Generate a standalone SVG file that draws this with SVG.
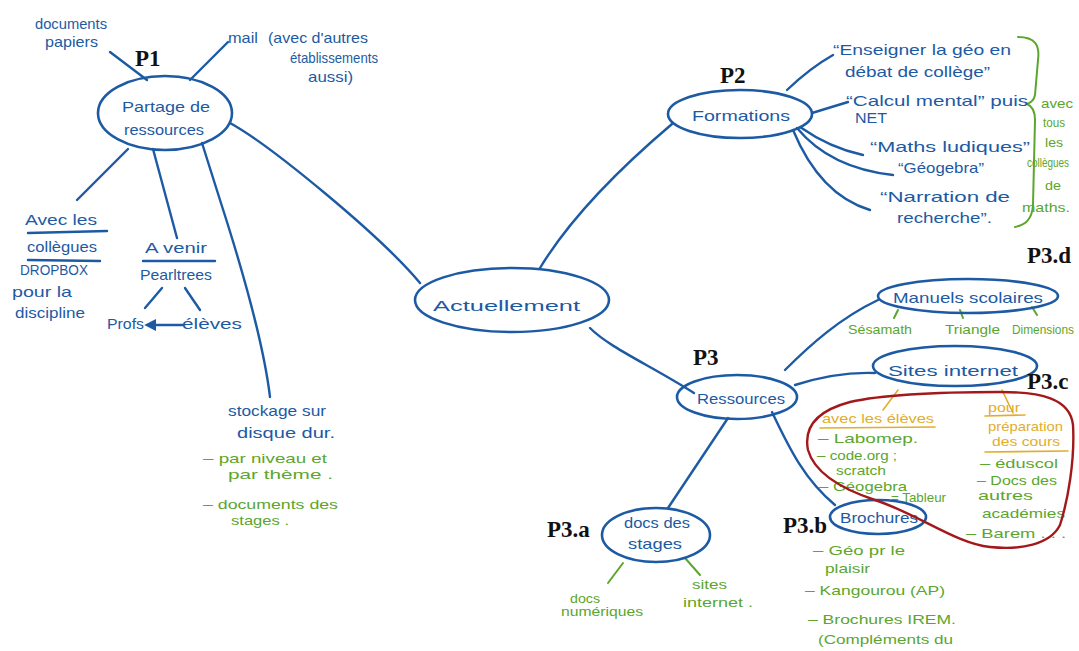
<svg xmlns="http://www.w3.org/2000/svg" width="1079" height="651" viewBox="0 0 1079 651">
<style>
text{font-family:"Liberation Sans","DejaVu Sans",sans-serif}
.b{fill:#1d5aa4;font-size:15px}
.g{fill:#5ba62c;font-size:13px}
.o{fill:#e2ad2a;font-size:13px}
.lbl{fill:#111;font-family:"Liberation Serif",serif;font-weight:bold;font-size:23px}
.nd{fill:none;stroke:#1d5aa4;stroke-width:2.6}
.ln{fill:none;stroke:#1d5aa4;stroke-width:2.4;stroke-linecap:round}
.gl{fill:none;stroke:#5ba62c;stroke-width:2;stroke-linecap:round}
.ol{fill:none;stroke:#e2ad2a;stroke-width:1.6;stroke-linecap:round}
.rl{fill:none;stroke:#a3191b;stroke-width:2.4}
</style>
<defs>
<marker id="ah" viewBox="0 0 10 10" refX="1" refY="5" markerWidth="5" markerHeight="5" orient="auto-start-reverse"><path d="M0,0 L10,5 L0,10 z" fill="#1d5aa4"/></marker>
</defs>
<rect width="1079" height="651" fill="#fff"/>

<g id="connectors">
<path class="ln" d="M230,123 C270,145 380,235 420,283"/>
<path class="ln" d="M540,268 C560,235 600,185 672,124"/>
<path class="ln" d="M590,328 C610,348 650,365 694,393"/>
<path class="ln" d="M110,52 L147,80"/>
<path class="ln" d="M190,80 L228,42"/>
<path class="ln" d="M128,149 L77,200"/>
<path class="ln" d="M153,149 L177,238"/>
<path class="ln" d="M202,143 L220,200 Q262,330 270,397"/>
<path class="ln" d="M162,288 L145,308"/>
<path class="ln" d="M185,288 L200,310"/>
<path class="ln" d="M155,325 L183,325" marker-start="url(#ah)"/>
<path class="ln" d="M787,90 Q810,68 833,55"/>
<path class="ln" d="M812,113 L848,102"/>
<path class="ln" d="M800,127 Q830,148 863,155"/>
<path class="ln" d="M797,128 Q830,168 893,175"/>
<path class="ln" d="M793,130 Q820,195 870,210"/>
<path class="ln" d="M785,370 C810,345 840,318 878,300"/>
<path class="ln" d="M795,385 C820,377 850,372 875,373"/>
<path class="ln" d="M772,412 C790,450 805,480 835,505"/>
<path class="ln" d="M728,418 L668,508"/>
<path class="gl" d="M898,310 L894,318"/>
<path class="gl" d="M960,310 L963,318"/>
<path class="gl" d="M1032,307 L1037,315"/>
<path class="gl" d="M623,563 L608,583"/>
<path class="gl" d="M685,558 L700,575"/>
<path class="ol" d="M898,390 L883,410"/>
<path class="ol" d="M1002,390 L1013,413"/>
<path class="gl" d="M1018,37 C1035,37 1040,45 1038,60 L1035,95 C1034,100 1030,103 1027,104 C1032,106 1035,110 1035,120 L1033,205 C1032,220 1025,225 1015,227"/>
</g>

<g id="n-actuellement">
<ellipse class="nd" cx="512" cy="300" rx="97" ry="32"/>
<text class="b" x="433" y="311" font-size="26" textLength="147" lengthAdjust="spacingAndGlyphs">Actuellement</text>
</g>

<g id="n-partage">
<ellipse class="nd" cx="165" cy="113" rx="67" ry="37"/>
<text class="b" x="122" y="112" font-size="17" textLength="88" lengthAdjust="spacingAndGlyphs">Partage de</text>
<text class="b" x="124" y="135" font-size="17" textLength="80" lengthAdjust="spacingAndGlyphs">ressources</text>
<text class="lbl" x="135" y="66">P1</text>
</g>

<g id="leaf-documents">
<text class="b" x="35" y="29" font-size="14" textLength="72" lengthAdjust="spacingAndGlyphs">documents</text>
<text class="b" x="45" y="47" font-size="14" textLength="53" lengthAdjust="spacingAndGlyphs">papiers</text>
</g>
<g id="leaf-mail">
<text class="b" x="228" y="43" font-size="15" textLength="30" lengthAdjust="spacingAndGlyphs">mail</text>
<text class="b" x="268" y="43" font-size="14" textLength="100" lengthAdjust="spacingAndGlyphs">(avec d'autres</text>
<text class="b" x="290" y="63" font-size="14" textLength="88" lengthAdjust="spacingAndGlyphs">établissements</text>
<text class="b" x="308" y="82" font-size="14" textLength="45" lengthAdjust="spacingAndGlyphs">aussi)</text>
</g>
<g id="leaf-avec">
<text class="b" x="25" y="225" font-size="16" textLength="72" lengthAdjust="spacingAndGlyphs">Avec les</text>
<path class="ln" d="M28,233 L107,231" stroke-width="2"/>
<text class="b" x="27" y="252" font-size="16" textLength="70" lengthAdjust="spacingAndGlyphs">collègues</text>
<path class="ln" d="M28,260 L100,261" stroke-width="2"/>
<text class="b" x="20" y="275" font-size="14" textLength="68" lengthAdjust="spacingAndGlyphs">DROPBOX</text>
<text class="b" x="12" y="297" font-size="15" textLength="60" lengthAdjust="spacingAndGlyphs">pour la</text>
<text class="b" x="15" y="318" font-size="15" textLength="70" lengthAdjust="spacingAndGlyphs">discipline</text>
</g>
<g id="leaf-avenir">
<text class="b" x="145" y="253" font-size="16" textLength="62" lengthAdjust="spacingAndGlyphs">A venir</text>
<path class="ln" d="M143,261 L215,261" stroke-width="2"/>
<text class="b" x="140" y="280" font-size="15" textLength="72" lengthAdjust="spacingAndGlyphs">Pearltrees</text>
<text class="b" x="107" y="329" font-size="16" textLength="37" lengthAdjust="spacingAndGlyphs">Profs</text>
<text class="b" x="182" y="329" font-size="16" textLength="60" lengthAdjust="spacingAndGlyphs">élèves</text>
</g>
<g id="leaf-stockage">
<text class="b" x="228" y="416" font-size="16" textLength="98" lengthAdjust="spacingAndGlyphs">stockage sur</text>
<text class="b" x="237" y="438" font-size="16" textLength="98" lengthAdjust="spacingAndGlyphs">disque dur.</text>
<text class="g" x="203" y="463" font-size="14" textLength="124" lengthAdjust="spacingAndGlyphs">– par niveau et</text>
<text class="g" x="228" y="479" font-size="14" textLength="105" lengthAdjust="spacingAndGlyphs">par thème .</text>
<text class="g" x="203" y="509" font-size="14" textLength="135" lengthAdjust="spacingAndGlyphs">– documents des</text>
<text class="g" x="231" y="525" font-size="14" textLength="58" lengthAdjust="spacingAndGlyphs">stages .</text>
</g>

<g id="n-formations">
<ellipse class="nd" cx="740" cy="114" rx="72" ry="24"/>
<text class="b" x="692" y="121" font-size="20" textLength="98" lengthAdjust="spacingAndGlyphs">Formations</text>
<text class="lbl" x="720" y="83">P2</text>
</g>
<g id="leaf-formations">
<text class="b" x="833" y="55" font-size="15" textLength="178" lengthAdjust="spacingAndGlyphs">“Enseigner la géo en</text>
<text class="b" x="845" y="77" font-size="15" textLength="145" lengthAdjust="spacingAndGlyphs">débat de collège”</text>
<text class="b" x="846" y="106" font-size="15" textLength="182" lengthAdjust="spacingAndGlyphs">“Calcul mental” puis</text>
<text class="b" x="855" y="123" font-size="14" textLength="32" lengthAdjust="spacingAndGlyphs">NET</text>
<text class="b" x="870" y="152" font-size="15" textLength="160" lengthAdjust="spacingAndGlyphs">“Maths ludiques”</text>
<text class="b" x="898" y="173" font-size="15" textLength="86" lengthAdjust="spacingAndGlyphs">“Géogebra”</text>
<text class="b" x="880" y="202" font-size="15" textLength="130" lengthAdjust="spacingAndGlyphs">“Narration de</text>
<text class="b" x="897" y="223" font-size="15" textLength="95" lengthAdjust="spacingAndGlyphs">recherche”.</text>
</g>
<g id="leaf-brace">
<text class="g" x="1041" y="108" font-size="12" textLength="32" lengthAdjust="spacingAndGlyphs">avec</text>
<text class="g" x="1043" y="127" font-size="12" textLength="22" lengthAdjust="spacingAndGlyphs">tous</text>
<text class="g" x="1045" y="147" font-size="12" textLength="18" lengthAdjust="spacingAndGlyphs">les</text>
<text class="g" x="1027" y="167" font-size="10" textLength="42" lengthAdjust="spacingAndGlyphs">collègues</text>
<text class="g" x="1045" y="190" font-size="12" textLength="16" lengthAdjust="spacingAndGlyphs">de</text>
<text class="g" x="1022" y="212" font-size="12" textLength="48" lengthAdjust="spacingAndGlyphs">maths.</text>
</g>

<g id="n-ressources">
<ellipse class="nd" cx="737" cy="397" rx="60" ry="22"/>
<text class="b" x="697" y="404" font-size="17" textLength="88" lengthAdjust="spacingAndGlyphs">Ressources</text>
<text class="lbl" x="693" y="365">P3</text>
</g>

<g id="n-manuels">
<ellipse class="nd" cx="968" cy="296" rx="90" ry="17"/>
<text class="b" x="893" y="303" font-size="16" textLength="150" lengthAdjust="spacingAndGlyphs">Manuels scolaires</text>
<text class="lbl" x="1027" y="263">P3.d</text>
<text class="g" x="848" y="334" textLength="64" lengthAdjust="spacingAndGlyphs">Sésamath</text>
<text class="g" x="945" y="334" textLength="55" lengthAdjust="spacingAndGlyphs">Triangle</text>
<text class="g" x="1012" y="334" textLength="62" lengthAdjust="spacingAndGlyphs">Dimensions</text>
</g>

<g id="n-sites">
<ellipse class="nd" cx="955" cy="366" rx="82" ry="20"/>
<text class="b" x="888" y="376" font-size="17" textLength="130" lengthAdjust="spacingAndGlyphs">Sites internet</text>
<text class="lbl" x="1027" y="389">P3.c</text>
</g>
<g id="leaf-sites">
<text class="o" x="822" y="423" textLength="112" lengthAdjust="spacingAndGlyphs">avec les élèves</text>
<path class="ol" d="M820,428 L935,427"/>
<text class="o" x="988" y="412" textLength="32" lengthAdjust="spacingAndGlyphs">pour</text>
<path class="ol" d="M985,416 L1025,415"/>
<text class="o" x="988" y="431" textLength="75" lengthAdjust="spacingAndGlyphs">préparation</text>
<text class="o" x="992" y="446" textLength="68" lengthAdjust="spacingAndGlyphs">des cours</text>
<path class="ol" d="M985,452 L1068,451"/>
<text class="g" x="818" y="443" font-size="14" textLength="100" lengthAdjust="spacingAndGlyphs">– Labomep.</text>
<text class="g" x="817" y="460" font-size="13" textLength="80" lengthAdjust="spacingAndGlyphs">– code.org ;</text>
<text class="g" x="836" y="475" font-size="13" textLength="50" lengthAdjust="spacingAndGlyphs">scratch</text>
<text class="g" x="819" y="491" font-size="14" textLength="88" lengthAdjust="spacingAndGlyphs">– Géogebra</text>
<text class="g" x="891" y="502" font-size="13" textLength="55" lengthAdjust="spacingAndGlyphs">= Tableur</text>
<text class="g" x="980" y="468" font-size="14" textLength="78" lengthAdjust="spacingAndGlyphs">– éduscol</text>
<text class="g" x="977" y="485" font-size="14" textLength="80" lengthAdjust="spacingAndGlyphs">– Docs des</text>
<text class="g" x="978" y="500" font-size="14" textLength="55" lengthAdjust="spacingAndGlyphs">autres</text>
<text class="g" x="982" y="518" font-size="14" textLength="83" lengthAdjust="spacingAndGlyphs">académies</text>
<text class="g" x="966" y="538" font-size="14" textLength="100" lengthAdjust="spacingAndGlyphs">– Barem . . .</text>
</g>

<g id="n-brochures">
<ellipse class="nd" cx="878" cy="517" rx="48" ry="17"/>
<text class="b" x="840" y="523" font-size="16" textLength="78" lengthAdjust="spacingAndGlyphs">Brochures</text>
<text class="lbl" x="783" y="533">P3.b</text>
</g>
<g id="leaf-brochures">
<text class="g" x="813" y="555" font-size="14" textLength="92" lengthAdjust="spacingAndGlyphs">– Géo pr le</text>
<text class="g" x="825" y="573" font-size="14" textLength="45" lengthAdjust="spacingAndGlyphs">plaisir</text>
<text class="g" x="805" y="595" font-size="14" textLength="140" lengthAdjust="spacingAndGlyphs">– Kangourou (AP)</text>
<text class="g" x="808" y="624" font-size="14" textLength="148" lengthAdjust="spacingAndGlyphs">– Brochures IREM.</text>
<text class="g" x="818" y="644" font-size="14" textLength="135" lengthAdjust="spacingAndGlyphs">(Compléments du</text>
</g>

<g id="n-docs">
<ellipse class="nd" cx="656" cy="535" rx="54" ry="27"/>
<text class="b" x="624" y="528" font-size="16" textLength="66" lengthAdjust="spacingAndGlyphs">docs des</text>
<text class="b" x="628" y="549" font-size="16" textLength="54" lengthAdjust="spacingAndGlyphs">stages</text>
<text class="lbl" x="547" y="537">P3.a</text>
</g>
<g id="leaf-docs">
<text class="g" x="570" y="603" textLength="30" lengthAdjust="spacingAndGlyphs">docs</text>
<text class="g" x="561" y="616" textLength="82" lengthAdjust="spacingAndGlyphs">numériques</text>
<text class="g" x="692" y="589" textLength="35" lengthAdjust="spacingAndGlyphs">sites</text>
<text class="g" x="683" y="607" textLength="70" lengthAdjust="spacingAndGlyphs">internet .</text>
</g>

<g id="n-region">
<path class="rl" d="M1000,392 C1040,392 1070,398 1073,425 C1075,460 1068,500 1060,525 C1050,545 1020,550 990,547 C955,543 920,515 875,500 C845,490 815,475 808,450 C803,425 820,410 850,402 C890,393 960,392 1000,392 Z"/>
</g>
</svg>
